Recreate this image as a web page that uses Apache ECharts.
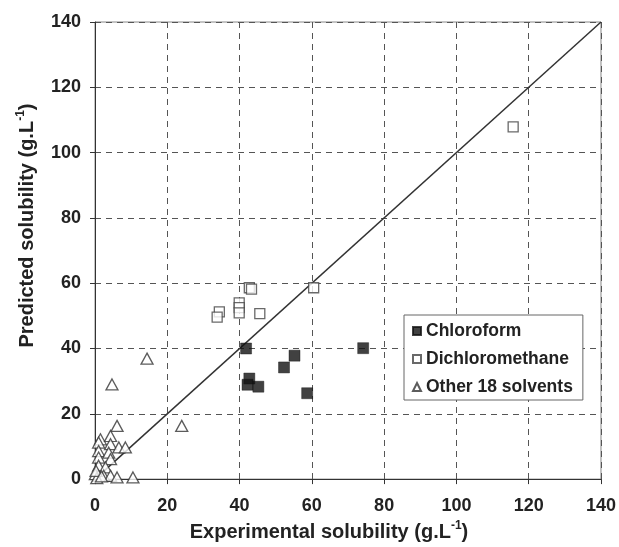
<!DOCTYPE html>
<html>
<head>
<meta charset="utf-8">
<script src="https://cdn.jsdelivr.net/npm/echarts@6/dist/echarts.min.js"></script>
<style>
  html, body { margin: 0; padding: 0; background: #fff; }
  #main { width: 619px; height: 547px; }
</style>
</head>
<body>
<div id="main"></div>
<script>
// values
var chloroformX = [41.8, 74.2, 55.2, 52.3, 42.7, 42.2, 45.2, 58.7];
var chloroformY = [40.0, 40.1, 37.8, 34.2, 30.8, 28.9, 28.3, 26.3];

var dcmX = [42.7, 43.3, 60.5, 39.9, 39.9, 39.9, 34.4, 33.8, 45.6, 115.7];
var dcmY = [58.6, 58.2, 58.6, 54.0, 52.5, 50.9, 51.2, 49.6, 50.7, 107.9];

var otherX = [14.4, 4.7, 6.1, 24.0, 10.5, 1.5, 4.3, 1.0, 4.3, 6.6, 8.4, 1.0, 3.8, 1.0, 4.3, 1.0, 2.9, 1.0, 0.1, 2.4, 4.3, 6.1, 0.5, 0.3, 1.8];
var otherY = [36.9, 29.0, 16.3, 16.3, 0.5, 12.2, 13.2, 11.2, 10.7, 9.7, 9.7, 8.6, 8.1, 6.6, 6.1, 4.1, 3.6, 1.0, 1.5, 1.0, 1.0, 0.5, 0.3, 2.5, 0.8];

var lineX = [0, 140];
var lineY = [0, 140];

var ticks = [0, 20, 40, 60, 80, 100, 120, 140];

function pairs(xs, ys) {
  var out = [];
  for (var i = 0; i < xs.length; i++) out.push([xs[i], ys[i]]);
  return out;
}

var font = 'Liberation Sans, Arial, sans-serif';
var dark = '#222';

var chart = echarts.init(document.getElementById('main'));

var axisCommon = {
  type: 'value',
  min: ticks[0],
  max: ticks[ticks.length - 1],
  interval: 20,
  axisLine: { show: true, lineStyle: { color: '#333', width: 1 } },
  axisTick: { show: true, inside: false, length: 5, lineStyle: { color: '#333' } },
  splitLine: { show: true, lineStyle: { color: '#555', type: [6, 5], width: 1 } },
  axisLabel: { color: dark, fontFamily: font, fontWeight: 'bold', fontSize: 18 }
};

var titleRich = {
  a: { fontFamily: font, fontWeight: 'bold', fontSize: 20, color: dark, lineHeight: 24 },
  s: { fontFamily: font, fontWeight: 'bold', fontSize: 12, color: dark, lineHeight: 24, verticalAlign: 'top', padding: [0, 0, 9, 0] }
};

chart.setOption({
  animation: false,
  backgroundColor: '#fff',
  grid: { left: 95, right: 17, top: 22, bottom: 67, show: true, borderColor: '#888', borderWidth: 1 },
  xAxis: Object.assign({}, axisCommon, {
    axisLabel: Object.assign({}, axisCommon.axisLabel, { margin: 18 }),
    name: '{a|Experimental solubility (g.L}{s|-1}{a|)}',
    nameLocation: 'middle',
    nameGap: 35,
    nameTextStyle: { padding: [0, 38, 0, 0], rich: titleRich }
  }),
  yAxis: Object.assign({}, axisCommon, {
    axisLabel: Object.assign({}, axisCommon.axisLabel, { margin: 14 }),
    name: '{a|Predicted solubility (g.L}{s|-1}{a|)}',
    nameLocation: 'middle',
    nameGap: 56,
    nameTextStyle: { padding: [0, 0, 0, 50], rich: titleRich }
  }),
  legend: {
    orient: 'vertical',
    left: 404,
    top: 315,
    padding: [7, 10, 4, 8],
    itemGap: 10,
    itemWidth: 8,
    itemHeight: 8,
    borderColor: '#666',
    borderWidth: 1,
    backgroundColor: '#fff',
    textStyle: { fontFamily: font, fontWeight: 'bold', fontSize: 17.5, color: dark, lineHeight: 18 },
    data: ['Chloroform', 'Dichloromethane', 'Other 18 solvents']
  },
  series: [
    {
      name: 'y = x',
      type: 'line',
      data: pairs(lineX, lineY),
      showSymbol: false,
      symbol: 'none',
      lineStyle: { color: '#333', width: 1.5 },
      z: 1
    },
    {
      name: 'Other 18 solvents',
      type: 'scatter',
      data: pairs(otherX, otherY),
      symbol: 'triangle',
      symbolSize: [12, 11],
      itemStyle: { color: '#fff', borderColor: '#333', borderWidth: 1.3 },
      z: 3
    },
    {
      name: 'Dichloromethane',
      type: 'scatter',
      data: pairs(dcmX, dcmY),
      symbol: 'rect',
      symbolSize: 10,
      itemStyle: { color: '#fff', borderColor: '#444', borderWidth: 1.3 },
      z: 4
    },
    {
      name: 'Chloroform',
      type: 'scatter',
      data: pairs(chloroformX, chloroformY),
      symbol: 'rect',
      symbolSize: 11,
      itemStyle: { color: '#111', borderColor: '#111', borderWidth: 0.5 },
      z: 5
    }
  ]
});
</script>
</body>
</html>
